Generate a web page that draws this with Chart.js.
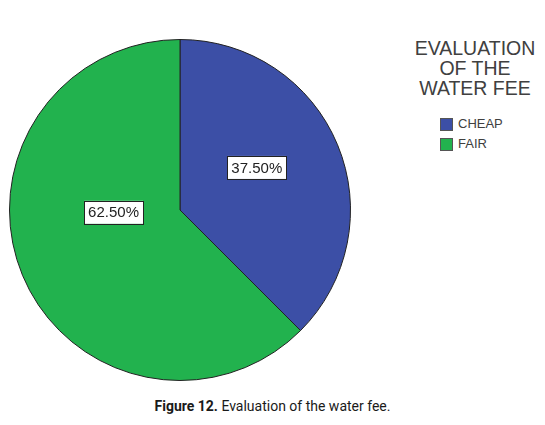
<!DOCTYPE html>
<html>
<head>
<meta charset="utf-8">
<script src="https://cdn.jsdelivr.net/npm/chart.js@4/dist/chart.umd.min.js"></script>
<style>
  body { margin: 0; background: #fff; width: 545px; height: 425px; position: relative; overflow: hidden; }
  #wrap { position: absolute; left: 9px; top: 38px; width: 342px; height: 344px; }
  #legend { position: absolute; left: 400px; top: 38px; width: 150px; font-family: "Liberation Sans", Arial, sans-serif; color: #404040; }
  #legend .title { font-size: 19.5px; line-height: 20px; text-align: center; }
  #legend ul { list-style: none; margin: 16px 0 0 40px; padding: 0; }
  #legend li { font-size: 13px; height: 20px; line-height: 14px; display: flex; align-items: center; }
  #legend li span { display: inline-block; width: 13px; height: 13px; margin-right: 5px; border: 1px solid #555; box-sizing: border-box; }
  #caption { position: absolute; left: 0; width: 545px; top: 398px; text-align: center; font-family: Roboto, sans-serif; font-size: 14px; color: #1a1a1a; }
</style>
</head>
<body>
<div id="wrap"><canvas id="pieChart"></canvas></div>
<div id="legend"></div>
<div id="caption"><b>Figure 12.</b> Evaluation of the water fee.</div>
<script>
const legendTitle = ["EVALUATION", "OF THE", "WATER FEE"];
const categories = ["CHEAP", "FAIR"];
const shares = [37.5, 62.5];
const sliceColors = ["#3c4fa6", "#22b24e"];

// label boxes, placed relative to each slice (degrees from top, fraction of radius)
const labelSpots = [
  { angle: 61, r: 0.515 },
  { angle: 268, r: 0.39 },
];

// Legend
function buildLegend() {
  let html = '<div class="title">' + legendTitle.join("<br>") + "</div><ul>";
  categories.forEach(function (name, i) {
    html += '<li><span style="background:' + sliceColors[i] + '"></span>' + name + "</li>";
  });
  document.getElementById("legend").innerHTML = html + "</ul>";
}

// Percent boxes
const boxLabels = {
  id: "boxLabels",
  afterDatasetsDraw(chart) {
    const ctx = chart.ctx;
    const meta = chart.getDatasetMeta(0);
    ctx.save();
    ctx.font = "15px 'Liberation Sans', Arial, sans-serif";
    ctx.textAlign = "center";
    ctx.textBaseline = "middle";
    meta.data.forEach(function (arc, i) {
      const spot = labelSpots[i];
      const a = (spot.angle * Math.PI) / 180;
      const x = arc.x + Math.sin(a) * arc.outerRadius * spot.r;
      const y = arc.y - Math.cos(a) * arc.outerRadius * spot.r;
      const text = shares[i].toFixed(2) + "%";
      const w = ctx.measureText(text).width + 8;
      const h = 23;
      ctx.fillStyle = "#fff";
      ctx.fillRect(x - w / 2, y - h / 2, w, h);
      ctx.strokeStyle = "#222";
      ctx.lineWidth = 1;
      ctx.strokeRect(Math.round(x - w / 2) + 0.5, Math.round(y - h / 2) + 0.5, Math.round(w), h);
      ctx.fillStyle = "#222";
      ctx.fillText(text, x, y + 1);
    });
    ctx.restore();
  },
};

buildLegend();

new Chart(document.getElementById("pieChart"), {
  type: "pie",
  data: {
    labels: categories,
    datasets: [
      {
        data: shares,
        backgroundColor: sliceColors,
        borderColor: "#222",
        borderWidth: 1,
      },
    ],
  },
  options: {
    responsive: true,
    maintainAspectRatio: false,
    animation: false,
    plugins: {
      legend: { display: false },
      tooltip: { enabled: false },
    },
  },
  plugins: [boxLabels],
});
</script>
</body>
</html>
